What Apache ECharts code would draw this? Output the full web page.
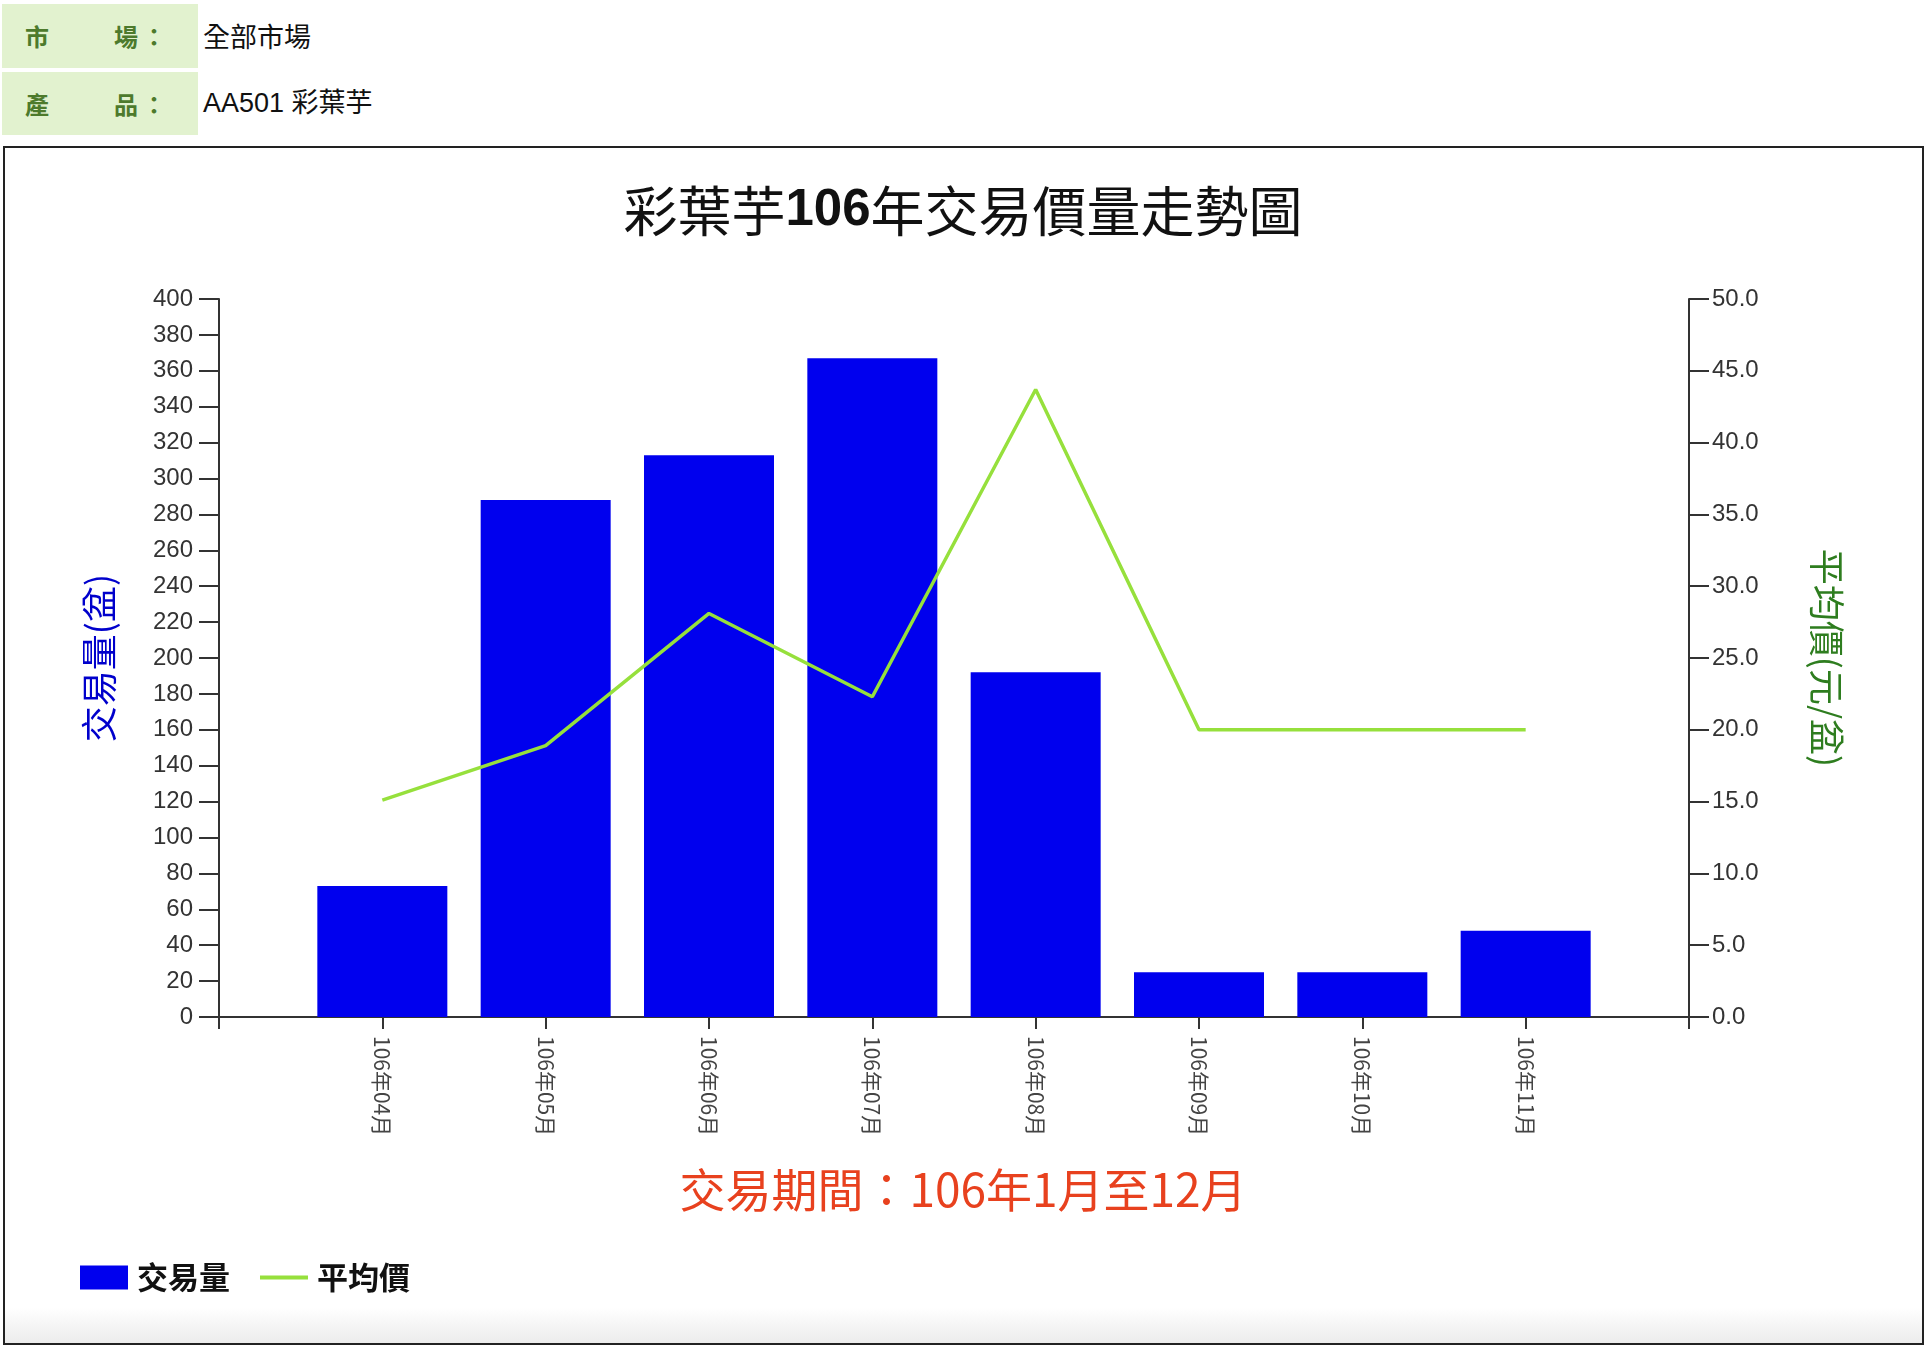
<!DOCTYPE html>
<html>
<head>
<meta charset="utf-8">
<script src="https://cdn.jsdelivr.net/npm/echarts@6/dist/echarts.min.js"></script>
<style>
  html, body { margin: 0; padding: 0; width: 1926px; height: 1346px; background: #fff; overflow: hidden; font-family: "Noto Sans CJK TC", "Noto Sans", sans-serif; }
  .cell { position: absolute; left: 2px; width: 196px; background: #e2f2cf; }
  .lab { position: absolute; font-size: 24px; font-weight: bold; color: #4d7a2c; line-height: 1; }
  .val { position: absolute; left: 203px; font-size: 27px; color: #111; line-height: 1; }
  #frame { position: absolute; left: 3px; top: 146px; width: 1917px; height: 1195px; border: 2px solid #222;
           background: linear-gradient(to bottom, #ffffff 0%, #ffffff 97%, #ececec 100%); }
  #chart { position: absolute; left: 0; top: 0; width: 1926px; height: 1346px; }
</style>
</head>
<body>
<div class="cell" style="top:4px;height:64px;"></div>
<div class="cell" style="top:72px;height:63px;"></div>
<span class="lab" style="left:25px;top:24px;">市</span>
<span class="lab" style="left:114px;top:24px;">場</span>
<span class="lab" style="left:142px;top:24px;">：</span>
<span class="lab" style="left:25px;top:92px;">產</span>
<span class="lab" style="left:114px;top:92px;">品</span>
<span class="lab" style="left:142px;top:92px;">：</span>
<span class="val" style="top:22px;">全部市場</span>
<span class="val" style="top:90px;font-family:'Liberation Sans','Noto Sans CJK TC',sans-serif;">AA501 彩葉芋</span>
<div id="frame"></div>
<div id="chart"></div>
<script>
// ---- data ----
var months = ['106年04月', '106年05月', '106年06月', '106年07月', '106年08月', '106年09月', '106年10月', '106年11月'];
var volumes = [73, 288, 313, 367, 192, 25, 25, 48];
var prices = [15.1, 18.9, 28.1, 22.3, 43.7, 20.0, 20.0, 20.0];
var volTicks = { min: 0, max: 400, interval: 20 };
var priceTicks = { min: 0, max: 50, interval: 5 };

// pad categories so the first/last month sit one step in from the axis ends
var cats = [''].concat(months).concat(['']);
var volData = [null].concat(volumes).concat([null]);
var priceData = [null].concat(prices).concat([null]);

var chart = echarts.init(document.getElementById('chart'), null, { renderer: 'canvas' });
var axisFont = "'Liberation Sans', Arial, sans-serif";
var cjk = "'Noto Sans CJK TC', sans-serif";
chart.setOption({
  backgroundColor: 'transparent',
  animation: false,
  title: [
    {
      text: '{a|彩葉芋}{b|106}{a|年交易價量走勢圖}',
      left: 'center', top: 179,
      textStyle: {
        rich: {
          a: { fontFamily: cjk, fontSize: 54, fontWeight: 'normal', color: '#111' },
          b: { fontFamily: axisFont, fontSize: 51, fontWeight: 'bold', color: '#111' }
        }
      }
    },
    {
      text: '交易期間：106年1月至12月',
      left: 'center', top: 1162,
      textStyle: { fontFamily: cjk, fontSize: 46, fontWeight: 'normal', color: '#e8411e' }
    }
  ],
  legend: {
    left: 75, top: 1257,
    itemWidth: 48, itemHeight: 24, itemGap: 30,
    symbolKeepAspect: true,
    textStyle: { fontFamily: cjk, fontSize: 31, fontWeight: 'bold', color: '#111', padding: [0, 0, 0, 4] },
    data: [
      { name: '交易量', icon: 'rect' },
      { name: '平均價', icon: 'path://M0,0 H48 V4 H0 Z' }
    ]
  },
  grid: { left: 219, right: 237, top: 299, bottom: 329 },
  xAxis: {
    type: 'category',
    data: cats,
    boundaryGap: false,
    axisLine: { lineStyle: { color: '#333', width: 2 } },
    axisTick: { show: true, length: 12, lineStyle: { color: '#333', width: 2 } },
    axisLabel: {
      interval: 0, rotate: -90, margin: 19,
      fontFamily: cjk, fontSize: 21, color: '#444'
    },
    splitLine: { show: false }
  },
  yAxis: [
    {
      type: 'value',
      min: volTicks.min, max: volTicks.max, interval: volTicks.interval,
      name: '交易量(盆)',
      nameLocation: 'middle', nameRotate: 90, nameGap: 102,
      nameTextStyle: { fontFamily: cjk, fontSize: 36, color: '#0000cc' },
      axisLine: { show: true, lineStyle: { color: '#333', width: 2 } },
      axisTick: { show: true, length: 20, lineStyle: { color: '#333', width: 2 } },
      axisLabel: { margin: 26, fontFamily: axisFont, fontSize: 24, color: '#333' },
      splitLine: { show: false }
    },
    {
      type: 'value',
      min: priceTicks.min, max: priceTicks.max, interval: priceTicks.interval,
      name: '平均價(元/盆)',
      nameLocation: 'middle', nameRotate: -90, nameGap: 120,
      nameTextStyle: { fontFamily: cjk, fontSize: 36, color: '#2e7d1f' },
      position: 'right',
      axisLine: { show: true, lineStyle: { color: '#333', width: 2 } },
      axisTick: { show: true, length: 20, lineStyle: { color: '#333', width: 2 } },
      axisLabel: { margin: 23, fontFamily: axisFont, fontSize: 24, color: '#333',
                   formatter: function (v) { return v.toFixed(1); } },
      splitLine: { show: false }
    }
  ],
  series: [
    {
      name: '交易量', type: 'bar', yAxisIndex: 0,
      data: volData, barWidth: 130,
      itemStyle: { color: '#0000ee' }
    },
    {
      name: '平均價', type: 'line', yAxisIndex: 1,
      data: priceData, symbol: 'none', connectNulls: false,
      lineStyle: { color: '#96e03c', width: 3.5 },
      itemStyle: { color: '#96e03c' }
    }
  ]
});
</script>
</body>
</html>
